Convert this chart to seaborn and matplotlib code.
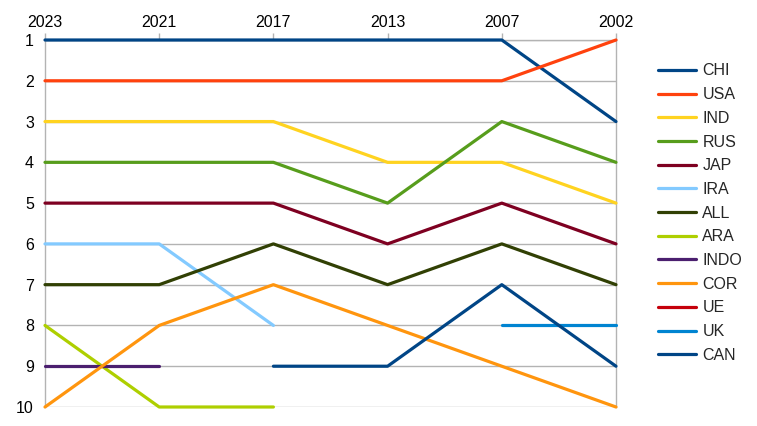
import numpy as np
import matplotlib
matplotlib.use("Agg")
import matplotlib.pyplot as plt
import seaborn as sns
from matplotlib.lines import Line2D

# Annees (axe du haut) et rangs par pays
years = ["2023", "2021", "2017", "2013", "2007", "2002"]
nan = np.nan
CHI = [1, 1, 1, 1, 1, 3]
USA = [2, 2, 2, 2, 2, 1]
IND = [3, 3, 3, 4, 4, 5]
RUS = [4, 4, 4, 5, 3, 4]
JAP = [5, 5, 5, 6, 5, 6]
IRA = [6, 6, 8, nan, nan, nan]
ALL = [7, 7, 6, 7, 6, 7]
ARA = [8, 10, 10, nan, nan, nan]
INDO = [9, 9, nan, nan, nan, nan]
COR = [10, 8, 7, 8, 9, 10]
UE = [nan, nan, nan, nan, nan, nan]
UK = [nan, nan, nan, nan, 8, 8]
CAN = [nan, nan, 9, 9, 7, 9]

names = ["CHI", "USA", "IND", "RUS", "JAP", "IRA", "ALL", "ARA", "INDO",
         "COR", "UE", "UK", "CAN"]
series = [CHI, USA, IND, RUS, JAP, IRA, ALL, ARA, INDO, COR, UE, UK, CAN]
colors = ["#004586", "#ff420e", "#ffd320", "#579d1c", "#7e0021", "#83caff",
          "#314004", "#aecf00", "#4b1f6f", "#ff950e", "#c5000b", "#0084d1",
          "#004586"]

sns.set_style("white")
plt.rcParams['font.family'] = ['Liberation Sans', 'DejaVu Sans']

fig = plt.figure(figsize=(7.57, 4.26), dpi=100)
ax = fig.add_axes([45 / 757, 19 / 426, 571 / 757, 367 / 426])

x = np.arange(len(years))
lw = 2.3
handles = []
for name, vals, col in zip(names, series, colors):
    v = np.array(vals, dtype=float)
    m = ~np.isnan(v)
    if m.any():
        sns.lineplot(x=x[m], y=v[m], ax=ax, color=col, linewidth=lw,
                     legend=False, zorder=3, clip_on=False)
    handles.append(Line2D([], [], color=col, linewidth=lw, label=name))

ax.set_xlim(0, len(years) - 1)
ax.set_ylim(10, 1)
ax.set_yticks(range(1, 11))
ax.set_xticks(x)
ax.set_xticklabels(years)
ax.xaxis.tick_top()
ax.tick_params(axis="both", labelsize=11.5, colors="#b3b3b3",
               labelcolor="black", length=5, width=1, direction="out")
ax.tick_params(axis="x", pad=2)
ax.tick_params(axis="y", pad=3)
ax.yaxis.grid(True, color="#b3b3b3", linewidth=1)
ax.xaxis.grid(False)
for side in ["left", "right", "top", "bottom"]:
    ax.spines[side].set_color("#b3b3b3")
    ax.spines[side].set_linewidth(1)
ax.spines["bottom"].set_visible(False)
ax.set_xlabel("")
ax.set_ylabel("")

fig.legend(handles=handles, loc="upper left",
           bbox_to_anchor=(652 / 757, 1 - 57 / 426), frameon=False,
           fontsize=11.5, handlelength=2.35, handletextpad=0.4,
           labelspacing=0.545, borderaxespad=0)

fig.savefig("out.png", dpi=100)
